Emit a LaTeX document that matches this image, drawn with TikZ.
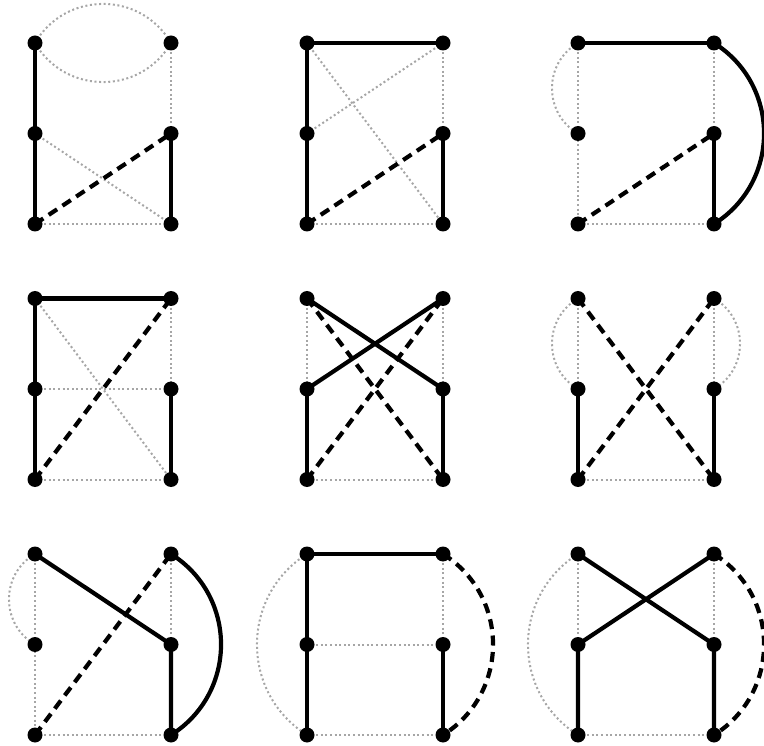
\documentclass[tikz,border=0pt]{standalone}
\begin{document}
\begin{tikzpicture}[x=1pt,y=-1pt,
  grey/.style={line width=2pt,color=black!35,dash pattern=on 2pt off 2.6pt},
  solidE/.style={line width=4.2pt,black},
  dashE/.style={line width=4.2pt,black,dash pattern=on 10pt off 6.5pt},
  vtx/.style={circle,fill=black,inner sep=0pt,minimum size=15pt}]
\useasboundingbox (0,0) rectangle (764,746);
\newcommand\panelpts[3]{%
  \coordinate (#1A) at (#2,#3);
  \coordinate (#1B) at (#2+136,#3);
  \coordinate (#1C) at (#2,#3+90.5);
  \coordinate (#1D) at (#2+136,#3+90.5);
  \coordinate (#1E) at (#2,#3+181);
  \coordinate (#1F) at (#2+136,#3+181);}
\panelpts{p1}{35}{43}
\panelpts{p2}{307}{43}
\panelpts{p3}{578}{43}
\panelpts{p4}{35}{298.5}
\panelpts{p5}{307}{298.5}
\panelpts{p6}{578}{298.5}
\panelpts{p7}{35}{554}
\panelpts{p8}{307}{554}
\panelpts{p9}{578}{554}
% ---------- panel 1
\draw[grey] (p1A) .. controls +(30.4,-52.1) and +(-30.4,-52.1) .. (p1B);
\draw[grey] (p1A) .. controls +(30.4,52.1) and +(-30.4,52.1) .. (p1B);
\draw[grey] (p1B) -- (p1D);
\draw[grey] (p1C) -- (p1F);
\draw[grey] (p1E) -- (p1F);
\draw[solidE] (p1A) -- (p1C) -- (p1E);
\draw[solidE] (p1D) -- (p1F);
\draw[dashE] (p1E) -- (p1D);
% ---------- panel 2
\draw[grey] (p2A) -- (p2F);
\draw[grey] (p2C) -- (p2B);
\draw[grey] (p2B) -- (p2D);
\draw[grey] (p2E) -- (p2F);
\draw[solidE] (p2B) -- (p2A) -- (p2C) -- (p2E);
\draw[solidE] (p2D) -- (p2F);
\draw[dashE] (p2E) -- (p2D);
% ---------- panel 3
\draw[grey] (p3A) .. controls +(-34.7,20) and +(-34.7,-20) .. (p3C);
\draw[grey] (p3A) -- (p3C) -- (p3E);
\draw[grey] (p3B) -- (p3D);
\draw[grey] (p3E) -- (p3F);
\draw[solidE] (p3A) -- (p3B);
\draw[solidE] (p3D) -- (p3F);
\draw[solidE] (p3B) .. controls +(66.7,42) and +(66.7,-42) .. (p3F);
\draw[dashE] (p3E) -- (p3D);
% ---------- panel 4
\draw[grey] (p4A) -- (p4F);
\draw[grey] (p4B) -- (p4D);
\draw[grey] (p4C) -- (p4D);
\draw[grey] (p4E) -- (p4F);
\draw[solidE] (p4B) -- (p4A) -- (p4C) -- (p4E);
\draw[solidE] (p4D) -- (p4F);
\draw[dashE] (p4E) -- (p4B);
% ---------- panel 5
\draw[grey] (p5A) -- (p5C);
\draw[grey] (p5B) -- (p5D);
\draw[grey] (p5E) -- (p5F);
\draw[dashE] (p5A) -- (p5F);
\draw[dashE] (p5E) -- (p5B);
\draw[solidE] (p5A) -- (p5D);
\draw[solidE] (p5C) -- (p5B);
\draw[solidE] (p5C) -- (p5E);
\draw[solidE] (p5D) -- (p5F);
% ---------- panel 6
\draw[grey] (p6A) .. controls +(-34.7,20) and +(-34.7,-20) .. (p6C);
\draw[grey] (p6B) .. controls +(34.7,20) and +(34.7,-20) .. (p6D);
\draw[grey] (p6A) -- (p6C);
\draw[grey] (p6B) -- (p6D);
\draw[grey] (p6E) -- (p6F);
\draw[dashE] (p6A) -- (p6F);
\draw[dashE] (p6E) -- (p6B);
\draw[solidE] (p6C) -- (p6E);
\draw[solidE] (p6D) -- (p6F);
% ---------- panel 7
\draw[grey] (p7A) .. controls +(-34.7,20) and +(-34.7,-20) .. (p7C);
\draw[grey] (p7A) -- (p7C) -- (p7E);
\draw[grey] (p7B) -- (p7D);
\draw[grey] (p7E) -- (p7F);
\draw[solidE] (p7A) -- (p7D) -- (p7F);
\draw[solidE] (p7B) .. controls +(66.7,42) and +(66.7,-42) .. (p7F);
\draw[dashE] (p7E) -- (p7B);
% ---------- panel 8
\draw[grey] (p8A) .. controls +(-66.7,42) and +(-66.7,-42) .. (p8E);
\draw[grey] (p8B) -- (p8D);
\draw[grey] (p8C) -- (p8D);
\draw[grey] (p8E) -- (p8F);
\draw[solidE] (p8B) -- (p8A) -- (p8C) -- (p8E);
\draw[solidE] (p8D) -- (p8F);
\draw[dashE] (p8B) .. controls +(66.7,42) and +(66.7,-42) .. (p8F);
% ---------- panel 9
\draw[grey] (p9A) .. controls +(-66.7,42) and +(-66.7,-42) .. (p9E);
\draw[grey] (p9A) -- (p9C);
\draw[grey] (p9B) -- (p9D);
\draw[grey] (p9E) -- (p9F);
\draw[solidE] (p9A) -- (p9D) -- (p9F);
\draw[solidE] (p9B) -- (p9C) -- (p9E);
\draw[dashE] (p9B) .. controls +(66.7,42) and +(66.7,-42) .. (p9F);
% ---------- vertices
\foreach \p in {p1,p2,p3,p4,p5,p6,p7,p8,p9}{
  \foreach \v in {A,B,C,D,E,F}{
    \node[vtx] (\p\v dot) at (\p\v) {};
  }}
\end{tikzpicture}
\end{document}
